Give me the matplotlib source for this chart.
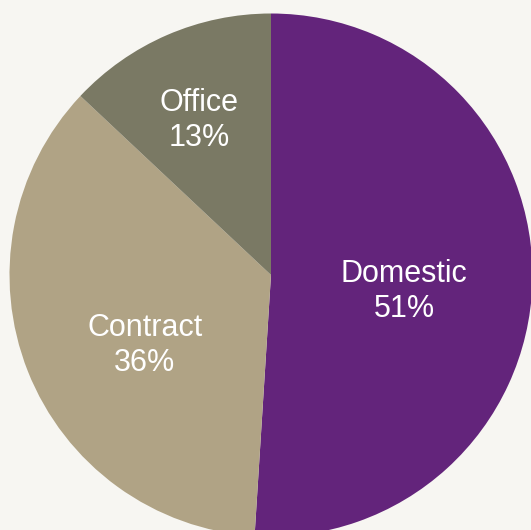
import matplotlib
matplotlib.use("Agg")
import matplotlib.pyplot as plt

plt.rcParams['font.family'] = ['Liberation Sans', 'DejaVu Sans']

# Share of sales by segment
categories = ["Domestic", "Contract", "Office"]
shares = [51, 36, 13]
colors = ["#63247b", "#b0a385", "#7a7964"]
# label anchor for each segment, in units of the pie radius
label_pos = [(0.509, -0.062), (-0.482, -0.270), (-0.275, 0.592)]

W, H, DPI = 531, 530, 100
fig = plt.figure(figsize=(W / DPI, H / DPI), dpi=DPI, facecolor="#f7f6f2")
ax = fig.add_axes([0, 0, 1, 1])
ax.set_facecolor("#f7f6f2")

cx, cy, r = 271.0, 275.0, 261.5  # centre and radius in pixels
wedges, _ = ax.pie(shares, colors=colors, startangle=90, counterclock=False,
                   radius=1.0, wedgeprops=dict(linewidth=0))

ax.set_xlim(-cx / r, (W - cx) / r)
ax.set_ylim((cy - H) / r, cy / r)
ax.set_aspect("equal")
ax.axis("off")

for name, val, (lx, ly) in zip(categories, shares, label_pos):
    ax.text(lx, ly, f"{name}\n{val}%", ha="center", va="center",
            color="white", fontsize=22, linespacing=1.22)

fig.savefig("out.png", dpi=DPI, facecolor=fig.get_facecolor())
